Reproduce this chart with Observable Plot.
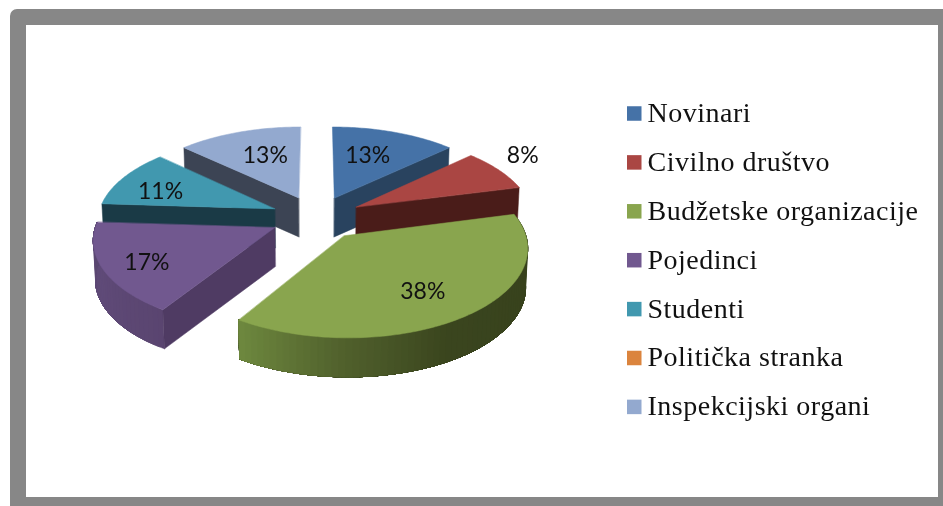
<!DOCTYPE html>
<html>
<head>
<meta charset="utf-8">
<script src="https://cdn.jsdelivr.net/npm/d3@7"></script>
<script src="https://cdn.jsdelivr.net/npm/@observablehq/plot@0.6"></script>
<style>
  html, body { margin: 0; padding: 0; background: #fff; overflow: hidden; }
  #frame { position: absolute; left: 10px; top: 9px; width: 933px; height: 497px; box-sizing: border-box;
           border-style: solid; border-color: #878787; border-width: 16px 5px 9px 16px; border-top-left-radius: 7px; }
  #chart { position: absolute; left: 0; top: 0; }
  .legend-text text { letter-spacing: 0.5px; }
</style>
</head>
<body>
<div id="frame"></div>
<div id="chart"></div>
<script>
// Data
const categories = ["Novinari", "Civilno društvo", "Budžetske organizacije", "Pojedinci", "Studenti", "Politička stranka", "Inspekcijski organi"];
const values = [13, 8, 38, 17, 11, 0, 13];
const topColors = ["#4572a7", "#aa4643", "#89a54e", "#71588f", "#4198af", "#db843d", "#93a9cf"];
const wallColors = ["#29435f", "#4a1c19", "#3a451e", "#4f3b63", "#1a3a46", "#7a4a22", "#3c4454"];
const rimStops = {
  "Budžetske organizacije": [[75, "#36401c"], [150, "#3a451e"], [180, "#50602c"], [212.4, "#6f8a3f"]],
  "Pojedinci": [[212, "#5a4570"], [245, "#5f4a78"], [275, "#5a4870"]]
};
// Radial position and angle nudge of every percentage label, in pie radii and degrees
const labelRadius = [0.87, 1.51, 0.96, 1.03, 0.97, 0, 0.87];
const labelNudge = [-2, -3.4, 1.5, -2, -4, 0, 2];

// View of the exploded pie (perspective-tilted disc)
const view = {cx: 316, cy: 217, rx: 177, ry: 84.4, perspX: 0.12, perspY: 0.125, explode: 0.26, depth: 39};
const rad = d => d * Math.PI / 180;
const project = (X, Y, down = 0) => {
  const sx = 1 / (1 - view.perspX * Y);
  const sy = 1 / (1 - view.perspY * Y);
  const f = down ? 0.99 : 1;
  return {x: view.cx + view.rx * X * sx * f, y: view.cy + view.ry * Y * sy + down};
};

const total = d3.sum(values);
let acc = 0;
const slices = categories.map((name, i) => {
  const a0 = acc / total * 360;
  acc += values[i];
  const a1 = acc / total * 360;
  const mid = (a0 + a1) / 2;
  return {name, i, value: values[i], a0, a1, mid,
          ox: view.explode * Math.sin(rad(mid)), oy: -view.explode * Math.cos(rad(mid))};
}).filter(d => d.value > 0);

const onRim = (s, a, down = 0) => project(s.ox + Math.sin(rad(a)), s.oy - Math.cos(rad(a)), down);
const apex = (s, down = 0) => project(s.ox, s.oy, down);
const arc = (a0, a1, step = 1) => {
  const n = Math.max(1, Math.ceil((a1 - a0) / step));
  return d3.range(n + 1).map(k => a0 + (a1 - a0) * k / n);
};

// Painter's order, far slices first
const order = slices.slice().sort((p, q) => d3.ascending(p.oy, q.oy));
const polys = [];
const addPoly = (pts, color, id) => pts.forEach(p => polys.push({x: p.x, y: p.y, color, id}));
for (const s of order) {
  // outer rim: each band runs on to the end of the rim and is overpainted by the next one, so no seams show
  const stops = rimStops[s.name];
  if (stops) {
    const shade = d3.scaleLinear().domain(stops.map(d => d[0])).range(stops.map(d => d[1])).interpolate(d3.interpolateRgb).clamp(true);
    const end = Math.min(s.a1, 275);
    arc(s.a0, end, 2).slice(0, -1).forEach((u, k) => {
      const band = arc(u, end);
      addPoly([...band.map(a => onRim(s, a)), ...band.slice().reverse().map(a => onRim(s, a, view.depth))], shade(u), `${s.name}-rim-${k}`);
    });
  }
  // cut faces turned toward the viewer
  for (const [edge, normal] of [[s.a0, s.a0 - 90], [s.a1, s.a1 + 90]]) {
    if (-Math.cos(rad(normal)) > 0.01)
      addPoly([apex(s), onRim(s, edge), onRim(s, edge, view.depth), apex(s, view.depth)], wallColors[s.i], `${s.name}-wall-${edge}`);
  }
  // top face
  addPoly([apex(s), ...arc(s.a0, s.a1).map(a => onRim(s, a))], topColors[s.i], `${s.name}-top`);
}

const labels = slices.map(s => {
  const a = rad(s.mid + labelNudge[s.i]);
  const q = labelRadius[s.i];
  const p = project(q * Math.sin(a), -q * Math.cos(a));
  return {x: p.x, y: p.y, text: s.value + "%"};
});

const legendLeft = 627, legendTop = 113.5, legendStep = 48.9, swatch = 14.5, legendGap = 20;
const legend = categories.map((name, i) => ({name, color: topColors[i], y: legendTop + i * legendStep}));

const chart = Plot.plot({
  width: 943, height: 506,
  marginLeft: 0, marginRight: 0, marginTop: 0, marginBottom: 0,
  style: {background: "transparent", filter: "blur(0.35px)"},
  x: {domain: [0, 943], range: [0, 943], axis: null},
  y: {domain: [0, 506], range: [0, 506], axis: null},
  color: {type: "identity"},
  marks: [
    Plot.line(polys, {x: "x", y: "y", z: "id", fill: "color", stroke: "color", strokeWidth: 0.5, curve: "linear-closed"}),
    Plot.text(labels, {x: "x", y: "y", text: "text", fill: "#111", fontSize: 23, fontFamily: "Lato", textAnchor: "middle"}),
    Plot.rect(legend, {x1: () => legendLeft, x2: () => legendLeft + swatch, y1: d => d.y - swatch / 2, y2: d => d.y + swatch / 2, fill: "color", inset: 0}),
    Plot.text(legend, {x: () => legendLeft + legendGap, y: d => d.y - 1, text: "name", textAnchor: "start", fill: "#111", fontSize: 28, fontFamily: "Liberation Serif", className: "legend-text"})
  ]
});
document.getElementById("chart").appendChild(chart);
</script>
</body>
</html>
